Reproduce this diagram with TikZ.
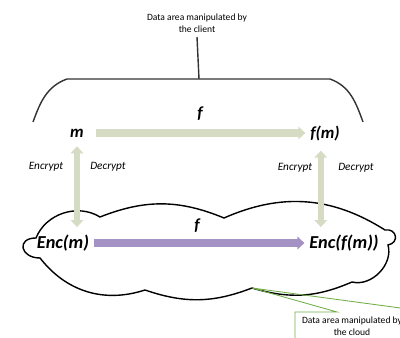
\documentclass[tikz,border=0pt]{standalone}
\usepackage{fontspec}
\setmainfont{Carlito}
\usetikzlibrary{arrows.meta}
\definecolor{sage}{RGB}{214,220,196}
\definecolor{lilac}{RGB}{164,146,196}
\definecolor{callgreen}{RGB}{112,173,71}

\begin{document}
\begin{tikzpicture}[x=0.25mm,y=0.25mm,
  big/.style={font=\fontsize{13}{15}\selectfont\bfseries\itshape},
  mid/.style={font=\fontsize{12}{14}\selectfont\bfseries\itshape},
  small/.style={font=\fontsize{8}{9}\selectfont\itshape},
  note/.style={font=\fontsize{6.8}{8.5}\selectfont, align=center},
  bar/.style={line width=5pt, -{Triangle[width=9pt,length=5pt]}},
  twobar/.style={line width=4.5pt,
    {Triangle[width=9pt,length=5pt]}-{Triangle[width=9pt,length=5pt]}},
  ]
  \clip (0,0) rectangle (400,338);
  % client side
  \node[note] (client) at (197,315) {Data area manipulated by\\the client};
  \coordinate (top) at (199,259);
  \draw[line width=1pt, black!80] (client.south |- 0,301) -- (top);
  \draw[line width=1pt, black!80] (33,216) to[out=70,in=200] (67,259)
    -- (330,259) to[out=-20,in=110] (363,216);
  \node[mid] (f1) at (200,224) {f};
  \node[mid] (m) at (77,205) {m};
  \node[mid] (fm) at (325,204) {f(m)};
  \draw[bar, sage, shorten <=5] (m.east) -- (m.east -| fm.west);
  % cloud side
  \draw[line width=1pt] (36,100) to[bend left=50] (100,121)
    to[bend left=22] (224,120) to[bend left=28] (385,108)
    to[out=10,in=10,looseness=2] (388,93) to[bend left=60] (352,56)
    to[bend left=20] (252,50) coordinate (tip) to[bend left=20] (145,48)
    to[bend left=35] (40,80) to[out=180,in=180,looseness=2.5] cycle;
  \node[mid] (f2) at (197,112) {f};
  \node[big] (encm) at (63,95) {Enc(m)};
  \node[big] (encfm) at (344,95) {Enc(f(m))};
  \draw[bar, lilac] (encm.east) -- (encfm.west);
  % encrypt / decrypt
  \draw[twobar, sage, shorten <=3, shorten >=2]
    (m.south) -- (m.south |- encm.north);
  \draw[twobar, sage, shorten <=3, shorten >=2]
    ([xshift=-3]fm.south) -- ([xshift=-3]fm.south |- encfm.north);
  \node[small] (enc1) at (46,171) {Encrypt};
  \node[small] (dec1) at (108,171) {Decrypt};
  \node[small] (enc2) at (295,170) {Encrypt};
  \node[small] (dec2) at (356,170) {Decrypt};
  % callout for the cloud
  \draw[callgreen, line width=0.6pt] (470,26) -- (430,26) -- (tip)
    -- (337,26) -- (295,26) -- (295,-30);
  \node[note] (cloud) at (352,12) {Data area manipulated by\\the cloud};
\end{tikzpicture}
\end{document}
